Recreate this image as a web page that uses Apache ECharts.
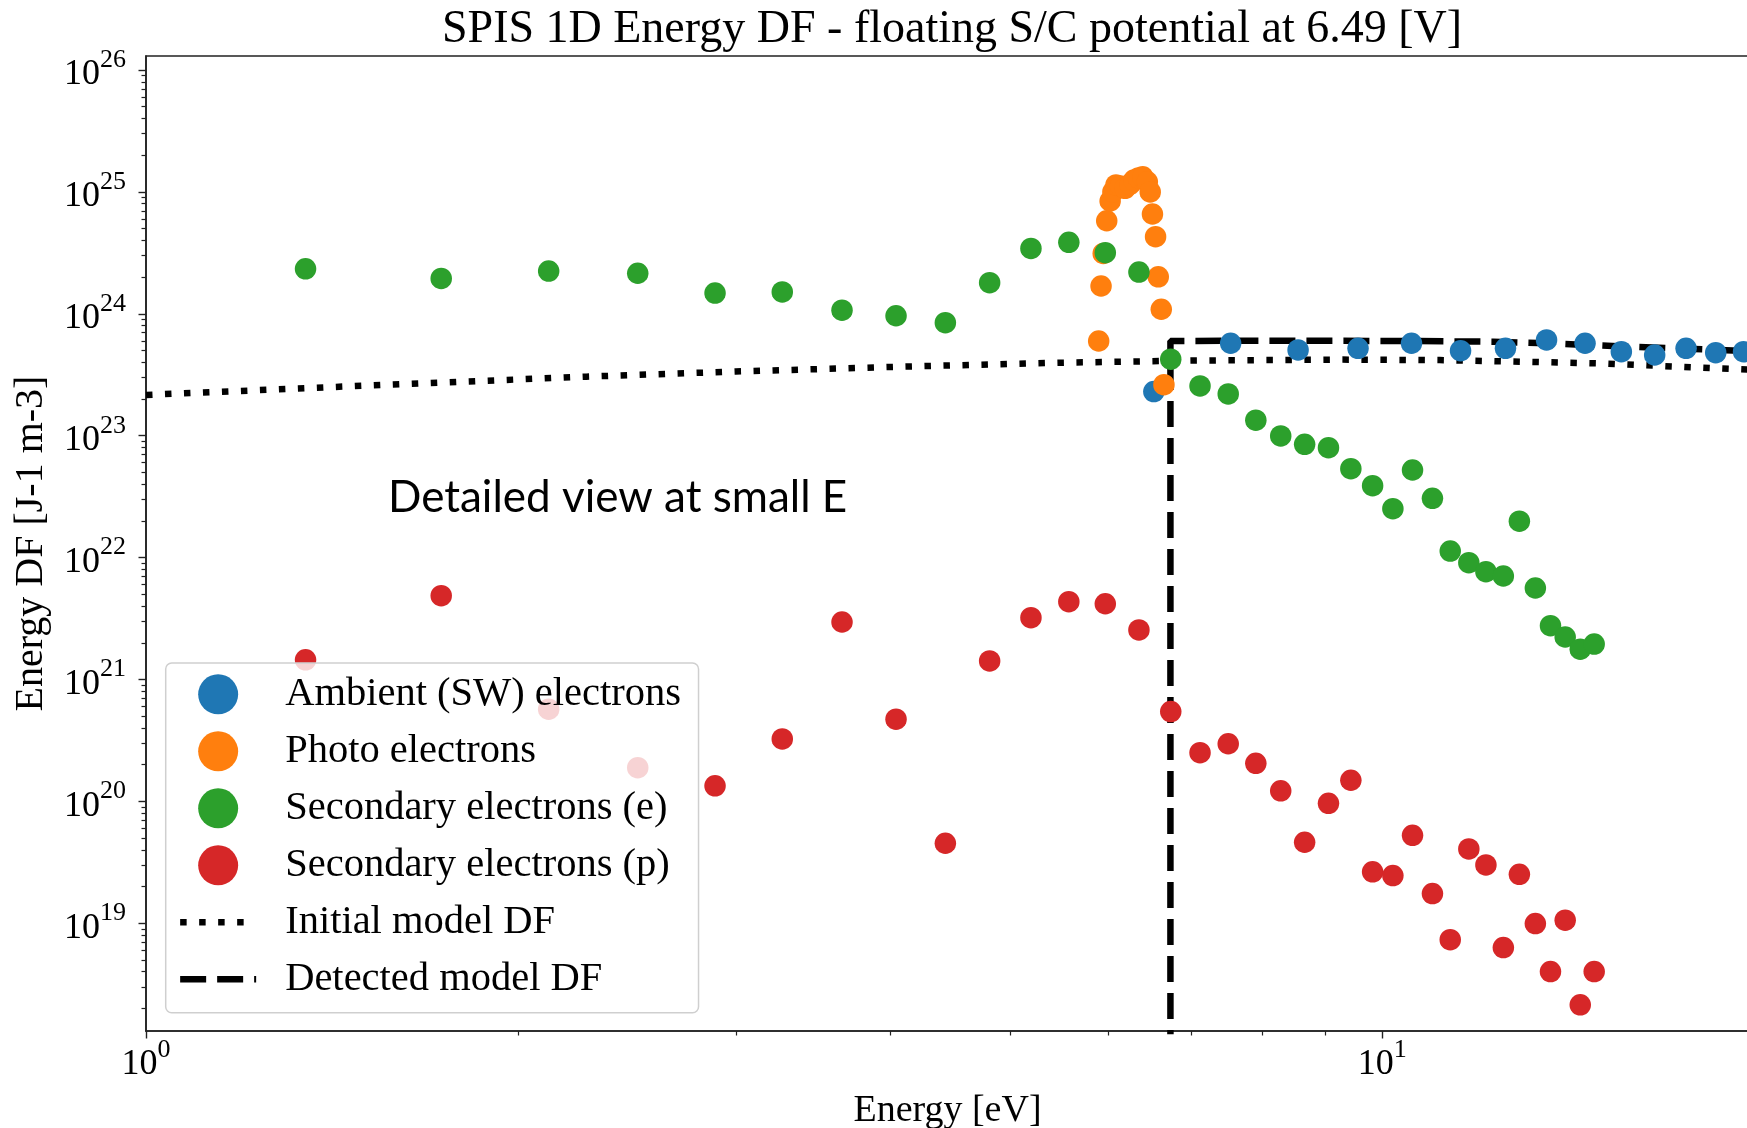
<!DOCTYPE html>
<html><head><meta charset="utf-8">
<script src="https://cdn.jsdelivr.net/npm/echarts@6/dist/echarts.min.js"></script>
<style>html,body{margin:0;padding:0;background:#fff}#c{width:1747px;height:1128px}</style>
</head><body><div id="c"></div>
<script>
// ---- data ----
const secE = [1.346, 1.733, 2.117, 2.499, 2.886, 3.271, 3.656, 4.043, 4.432, 4.813, 5.198, 5.578, 5.970, 6.356, 6.744,
  7.122, 7.506, 7.902, 8.277, 8.654, 9.047, 9.432, 9.822, 10.20, 10.58, 10.98, 11.35, 11.75, 12.13, 12.53, 12.91, 13.30, 13.68, 14.06, 14.46, 14.84];
const secElecDF = [2.34e24, 1.95e24, 2.24e24, 2.15e24, 1.48e24, 1.51e24, 1.07e24, 9.64e23, 8.45e23, 1.80e24, 3.44e24, 3.86e24, 3.17e24, 2.20e24, 4.24e23,
  2.56e23, 2.20e23, 1.34e23, 9.95e22, 8.50e22, 7.98e22, 5.36e22, 3.89e22, 2.52e22, 5.23e22, 3.06e22, 1.13e22, 9.08e21, 7.66e21, 7.06e21, 1.99e22, 5.63e21, 2.76e21, 2.23e21, 1.77e21, 1.95e21];
const secProtDF = [1.45e21, 4.87e21, 5.70e20, 1.89e20, 1.34e20, 3.25e20, 2.96e21, 4.72e20, 4.53e19, 1.42e21, 3.21e21, 4.35e21, 4.18e21, 2.55e21, 5.45e20,
  2.51e20, 2.97e20, 2.05e20, 1.22e20, 4.62e19, 9.64e19, 1.49e20, 2.64e19, 2.46e19, 5.26e19, 1.75e19, 7.33e18, 4.07e19, 3.01e19, 6.31e18, 2.52e19, 9.93e18, 4.01e18, 1.06e19, 2.14e18, 4.01e18];
const ambE = [6.535, 7.540, 8.549, 9.559, 10.56, 11.57, 12.58, 13.58, 14.59, 15.61, 16.61, 17.61, 18.61, 19.60];
const ambDF = [2.30e23, 5.73e23, 5.05e23, 5.21e23, 5.73e23, 4.98e23, 5.21e23, 6.10e23, 5.73e23, 4.89e23, 4.59e23, 5.21e23, 4.80e23, 4.89e23];
const photoE = [5.897, 5.923, 5.947, 5.986, 6.024, 6.055, 6.090, 6.14, 6.194, 6.25, 6.297, 6.35, 6.401, 6.456, 6.491, 6.518, 6.556, 6.589, 6.626, 6.659];
const photoDF = [5.98e23, 1.69e24, 3.13e24, 5.80e24, 8.42e24, 1.00e25, 1.14e25, 1.12e25, 1.07e25, 1.15e25, 1.25e25, 1.30e25, 1.33e25, 1.21e25, 1.00e25, 6.59e24, 4.29e24, 2.01e24, 1.09e24, 2.62e23];
const initE = [1, 1.5, 2.27, 3, 4.07, 5.5, 7, 9.25, 11.13, 15, 19.8];
const initDF = [2.16e23, 2.57e23, 3.05e23, 3.36e23, 3.68e23, 3.97e23, 4.13e23, 4.21e23, 4.17e23, 3.92e23, 3.48e23];
const detE = [6.74, 6.74, 7.5, 9.0, 10.5, 12.3, 13.6, 15.8, 19.8];
const detDF = [1e17, 5.98e23, 6.0e23, 6.0e23, 5.98e23, 5.9e23, 5.73e23, 5.37e23, 4.95e23];
const xMajorTicks = [1, 10];
const xMinorTicks = [2, 3, 4, 5, 6, 7, 8, 9];
const yMajorTicks = [1e19, 1e20, 1e21, 1e22, 1e23, 1e24, 1e25, 1e26];
const seriesNames = ['Ambient (SW) electrons', 'Photo electrons', 'Secondary electrons (e)', 'Secondary electrons (p)', 'Initial model DF', 'Detected model DF'];
const colors = ['#1f77b4', '#ff7f0e', '#2ca02c', '#d62728'];

// ---- helpers ----
const X_MIN = 1, X_MAX = 19.8, Y_MIN = 1.306e18, Y_MAX = 1.303e26;
const serif = 'Liberation Serif';
const zip = (xs, ys) => xs.map((x, i) => [x, ys[i]]);
function yMinor() {
  const out = [];
  for (let e = 18; e <= 26; e++) for (let k = 2; k <= 9; k++) {
    const v = k * Math.pow(10, e);
    if (v >= Y_MIN && v <= Y_MAX) out.push(v);
  }
  return out;
}
const supLabel = v => '{b|10}{s|' + Math.round(Math.log10(v)) + '}';
const rich = {
  b: { fontFamily: serif, fontSize: 36, color: '#000', lineHeight: 46, verticalAlign: 'bottom' },
  s: { fontFamily: serif, fontSize: 26, color: '#000', lineHeight: 28, verticalAlign: 'top' }
};
const axisCol = '#222';

const chart = echarts.init(document.getElementById('c'), null, { renderer: 'canvas' });
const scatter = (name, xs, ys, color) => ({
  name, type: 'scatter', data: zip(xs, ys), symbol: 'circle', symbolSize: 21.5,
  itemStyle: { color, opacity: 1 }, z: 3, xAxisIndex: 0, yAxisIndex: 0
});
chart.setOption({
  animation: false,
  backgroundColor: '#fff',
  title: {
    text: 'SPIS 1D Energy DF - floating S/C potential at 6.49 [V]',
    left: 947, top: 2, textAlign: 'center',
    textStyle: { fontFamily: serif, fontSize: 46, fontWeight: 'normal', color: '#000' }
  },
  grid: {
    left: 146, top: 56, bottom: 97, right: -2,
    show: true, borderColor: axisCol, borderWidth: 1.6, backgroundColor: 'transparent',
    containLabel: false, outerBoundsMode: 'none'
  },
  legend: {
    orient: 'vertical', left: 165.7, top: 663,
    padding: [10.8, 17.5, 13, 11.2],
    itemWidth: 76, itemHeight: 40, itemGap: 16,
    backgroundColor: 'rgba(255,255,255,0.8)', borderColor: '#cfcfcf', borderWidth: 1.5, borderRadius: 6,
    textStyle: { fontFamily: serif, fontSize: 40.5, color: '#000', padding: [0, 0, 0, 24] },
    lineStyle: { width: 6.5, cap: 'butt' },
    data: seriesNames.map((n, i) => i >= 4 ? { name: n, itemStyle: { opacity: 0 } } : { name: n }),
    selectedMode: false
  },
  xAxis: [
    {
      type: 'log', logBase: 10, min: X_MIN, max: X_MAX, position: 'bottom',
      axisLine: { show: true, lineStyle: { color: axisCol, width: 1.6 } },
      axisTick: { show: true, customValues: xMajorTicks, length: 7.5, lineStyle: { color: axisCol, width: 1.4 } },
      axisLabel: { customValues: xMajorTicks, formatter: supLabel, rich, margin: 6 },
      splitLine: { show: false }, minorTick: { show: false },
      name: 'Energy [eV]', nameLocation: 'middle', nameGap: 61,
      nameTextStyle: { fontFamily: serif, fontSize: 38, color: '#000' }
    },
    {
      type: 'log', logBase: 10, min: X_MIN, max: X_MAX, position: 'bottom',
      axisLine: { show: false },
      axisTick: { show: true, customValues: xMinorTicks, length: 4.5, lineStyle: { color: axisCol, width: 1.2 } },
      axisLabel: { show: false }, splitLine: { show: false }
    }
  ],
  yAxis: [
    {
      type: 'log', logBase: 10, min: Y_MIN, max: Y_MAX, position: 'left',
      axisLine: { show: true, lineStyle: { color: axisCol, width: 1.6 } },
      axisTick: { show: true, customValues: yMajorTicks, length: 7.5, lineStyle: { color: axisCol, width: 1.4 } },
      axisLabel: { customValues: yMajorTicks, formatter: supLabel, rich, margin: 20 },
      splitLine: { show: false }, minorTick: { show: false },
      name: 'Energy DF [J-1 m-3]', nameLocation: 'middle', nameGap: 95, nameRotate: 90,
      nameTextStyle: { fontFamily: serif, fontSize: 40, color: '#000' }
    },
    {
      type: 'log', logBase: 10, min: Y_MIN, max: Y_MAX, position: 'left',
      axisLine: { show: false },
      axisTick: { show: true, customValues: yMinor(), length: 4.5, lineStyle: { color: axisCol, width: 1.2 } },
      axisLabel: { show: false }, splitLine: { show: false }
    }
  ],
  graphic: [{
    type: 'text', left: 388, top: 476, z: 10,
    style: { text: 'Detailed view at small E', fontFamily: 'Lato', fontSize: 44, fill: '#000' }
  }],
  series: [
    { name: seriesNames[4], type: 'line', data: zip(initE, initDF), symbol: 'none', z: 1,
      lineStyle: { color: '#000', width: 6.5, type: [6.5, 12.5], cap: 'butt' }, itemStyle: { color: '#000' } },
    { name: seriesNames[5], type: 'line', data: zip(detE, detDF), symbol: 'none', z: 1,
      lineStyle: { color: '#000', width: 6.5, type: [26, 11], cap: 'butt' }, itemStyle: { color: '#000' } },
    scatter(seriesNames[0], ambE, ambDF, colors[0]),
    scatter(seriesNames[1], photoE, photoDF, colors[1]),
    scatter(seriesNames[2], secE, secElecDF, colors[2]),
    scatter(seriesNames[3], secE, secProtDF, colors[3])
  ]
});
</script></body></html>
